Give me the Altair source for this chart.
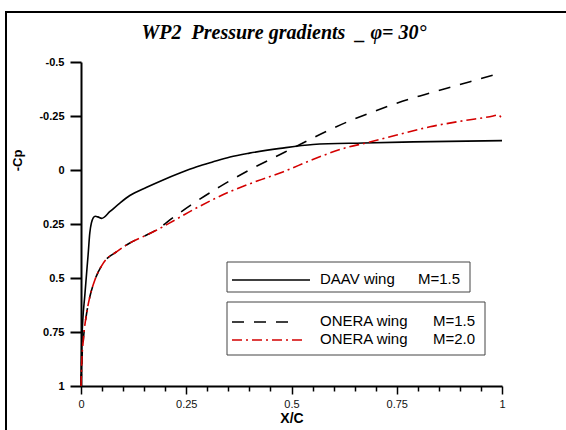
import altair as alt
import pandas as pd

# Chordwise pressure distributions: X/C against Cp (axis reversed, suction up)
daav_x = [0.0, 0.002, 0.0095, 0.017, 0.021, 0.029, 0.034, 0.040, 0.049, 0.069, 0.093,
          0.116, 0.156, 0.195, 0.235, 0.275, 0.314, 0.354, 0.40, 0.473, 0.551, 0.67,
          0.789, 1.0]
daav_cp = [1.0, 0.79, 0.57, 0.39, 0.29, 0.222, 0.214, 0.217, 0.224, 0.192, 0.152,
           0.118, 0.08, 0.046, 0.014, -0.015, -0.038, -0.06, -0.078, -0.1, -0.118,
           -0.125, -0.13, -0.136]

onera15_x = [0.0, 0.0017, 0.0055, 0.0135, 0.021, 0.033, 0.053, 0.085, 0.116, 0.156,
             0.18, 0.219, 0.259, 0.33, 0.40, 0.473, 0.527, 0.584, 0.639, 0.694, 0.75,
             0.805, 0.869, 0.924, 1.0]
onera15_cp = [1.0, 0.894, 0.787, 0.662, 0.587, 0.509, 0.431, 0.378, 0.338, 0.301,
              0.276, 0.22, 0.165, 0.077, 0.0, -0.072, -0.125, -0.18, -0.228, -0.27,
              -0.309, -0.343, -0.378, -0.409, -0.45]

onera20_x = [0.0, 0.0017, 0.0055, 0.0135, 0.021, 0.033, 0.053, 0.085, 0.116, 0.156,
             0.18, 0.211, 0.275, 0.354, 0.42, 0.481, 0.552, 0.631, 0.679, 0.75, 0.829,
             0.908, 0.979, 0.991, 1.0]
onera20_cp = [1.0, 0.894, 0.787, 0.662, 0.587, 0.509, 0.431, 0.378, 0.338, 0.301,
              0.278, 0.245, 0.175, 0.10, 0.05, 0.008, -0.05, -0.104, -0.126, -0.162,
              -0.2, -0.228, -0.25, -0.255, -0.236]

x_ticks = [round(i * 0.05, 2) for i in range(21)]
y_ticks = [-0.5, -0.25, 0, 0.25, 0.5, 0.75, 1]

title_text = "WP2\u00a0\u00a0Pressure gradients\u00a0\u00a0_ \u03c6=\u00a030\u00b0"
legend_names = ["DAAV wing", "ONERA wing", "ONERA wing"]
legend_mach = ["M=1.5", "M=1.5", "M=2.0"]

FONT = "Liberation Sans"
W, H = 421, 324

major = "abs(datum.value * 4 - round(datum.value * 4)) < 0.001"

x_scale = alt.Scale(domain=[0, 1], nice=False, zero=False)
y_scale = alt.Scale(domain=[-0.5, 1], reverse=True, nice=False, zero=False)

x_axis = alt.Axis(
    values=x_ticks, title="X/C", grid=False, labelFlush=False,
    labelExpr=f"{major} ? '' + datum.value : ''",
    tickSize={"condition": {"test": major, "value": 8}, "value": 5},
    tickWidth=1.5, tickColor="black", domainWidth=2, domainColor="black",
    labelFont=FONT, labelFontSize=11, labelColor="#111", labelPadding=4,
    titleFont=FONT, titleFontSize=14, titleFontWeight="bold", titleColor="black",
    titleBaseline="middle", titleY=32,
)
y_axis = alt.Axis(
    values=y_ticks, title="-Cp", grid=False, labelFlush=False,
    labelExpr="'' + datum.value",
    tickSize=11, tickWidth=2, tickColor="black", domainWidth=2, domainColor="black",
    labelFont=FONT, labelFontSize=11, labelFontWeight="bold", labelColor="black",
    labelPadding=6,
    titleFont=FONT, titleFontSize=13, titleFontWeight="bold", titleColor="black",
    titleBaseline="middle", titleX=-64, titleY=98,
)


def curve(xs, ys, color, width, dash=None):
    df = pd.DataFrame({"xc": xs, "cp": ys})
    mark = dict(color=color, strokeWidth=width, interpolate="monotone")
    if dash:
        mark["strokeDash"] = dash
    return alt.Chart(df).mark_line(**mark).encode(
        x=alt.X("xc:Q", scale=x_scale, axis=x_axis),
        y=alt.Y("cp:Q", scale=y_scale, axis=y_axis),
    )


one = pd.DataFrame({"k": [0]})

# outer frame of the figure
frame = alt.Chart(one).mark_rect(fillOpacity=0, stroke="black", strokeWidth=2).encode(
    x=alt.value(-75), x2=alt.value(500), y=alt.value(-50), y2=alt.value(380)
)

# figure heading
heading = alt.Chart(one).mark_text(
    text=title_text, font="Liberation Serif", fontSize=20, fontWeight="bold",
    fontStyle="italic", color="black", align="center", baseline="alphabetic",
).encode(x=alt.value(203), y=alt.value(-23))

daav = curve(daav_x, daav_cp, "black", 1.6)
onera15 = curve(onera15_x, onera15_cp, "black", 1.6, [12, 10])
onera20 = curve(onera20_x, onera20_cp, "#d40000", 1.6, [10, 4, 2, 4])

# legend boxes
box1 = alt.Chart(one).mark_rect(fill="white", stroke="#444", strokeWidth=1).encode(
    x=alt.value(146), x2=alt.value(389), y=alt.value(200), y2=alt.value(230)
)
box2 = alt.Chart(one).mark_rect(fill="white", stroke="#444", strokeWidth=1).encode(
    x=alt.value(146), x2=alt.value(404), y=alt.value(240), y2=alt.value(293)
)
key1 = alt.Chart(one).mark_rule(color="black", strokeWidth=1.6).encode(
    x=alt.value(151), x2=alt.value(229), y=alt.value(218)
)
key2 = alt.Chart(one).mark_rule(color="black", strokeWidth=1.6, strokeDash=[12, 10]).encode(
    x=alt.value(151), x2=alt.value(215), y=alt.value(260)
)
key3 = alt.Chart(one).mark_rule(color="#d40000", strokeWidth=1.6, strokeDash=[10, 4, 2, 4]).encode(
    x=alt.value(151), x2=alt.value(221), y=alt.value(278)
)


def label(text, x, y):
    return alt.Chart(one).mark_text(
        text=text, font=FONT, fontSize=15, align="left", baseline="alphabetic", color="black"
    ).encode(x=alt.value(x), y=alt.value(y))


labels = [
    label(legend_names[0], 239, 222), label(legend_mach[0], 337, 222),
    label(legend_names[1], 239, 264), label(legend_mach[1], 352, 264),
    label(legend_names[2], 239, 282), label(legend_mach[2], 352, 282),
]

chart = alt.layer(
    frame, heading, daav, onera15, onera20, box1, box2, key1, key2, key3, *labels
).properties(
    width=W, height=H,
    autosize=alt.AutoSizeParams(type="none"),
    padding={"left": 81, "top": 62, "right": 64, "bottom": 44},
).configure_view(stroke=None)

chart.save("out.html", embed_options={"renderer": "svg", "actions": False})
